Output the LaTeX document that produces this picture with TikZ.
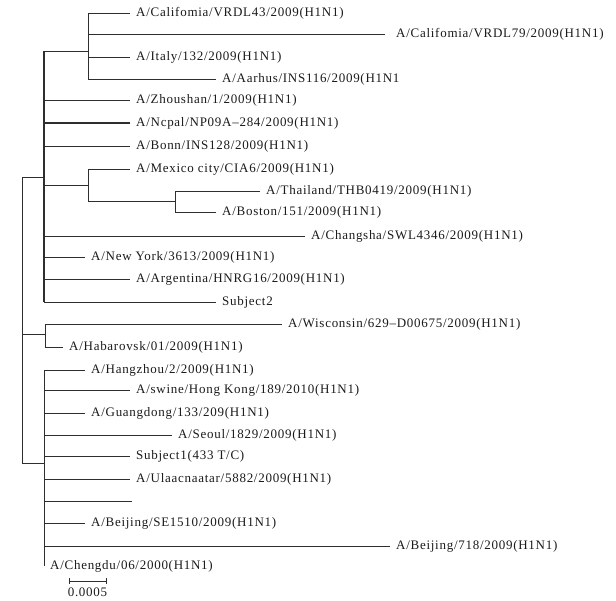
\documentclass[tikz,border=0pt]{standalone}
\usepackage{fontspec}
\setmainfont{Liberation Serif}[LetterSpace=5.6]
\definecolor{linec}{HTML}{2E2E2E}
\definecolor{textc}{HTML}{1A1A1A}
\tikzset{
  branch/.style={draw=linec, line width=0.9pt},
  thickbranch/.style={draw=linec, line width=1.6pt},
  lbl/.style={anchor=base west, inner xsep=6pt, inner ysep=0pt, yshift=-3.5pt,
              font=\fontsize{13}{15}\selectfont, text=textc},
}
\newcommand\mkleaf[6][branch]{%
  \coordinate (#2s) at (#3,#5);
  \coordinate (#2t) at (#4,#5);
  \draw[#1] (#2s) -- (#2t);
  \node[lbl] (#2) at (#2t) {#6};
}
\begin{document}
\begin{tikzpicture}[x=1pt,y=-1pt]
\useasboundingbox (0,0) rectangle (616,600);
% internal nodes
\coordinate (rootT) at (22,177);
\coordinate (rootB) at (22,463);
\coordinate (rootM) at (22,334);
\coordinate (aJoin) at (44,177);
\coordinate (aTop) at (44,51);
\coordinate (aBot) at (44,302);
\coordinate (a1Join) at (88,51);
\coordinate (a1Top) at (88,13);
\coordinate (a1Bot) at (88,79);
\coordinate (mxJoin0) at (44,185);
\coordinate (mxJoin) at (88,185);
\coordinate (mxTop) at (88,169);
\coordinate (mxBot) at (88,201);
\coordinate (thJoin) at (175,201);
\coordinate (thTop) at (175,191);
\coordinate (thBot) at (175,212);
\coordinate (bJoin) at (45,334);
\coordinate (bTop) at (45,324);
\coordinate (bBot) at (45,347);
\coordinate (cJoin) at (44,463);
\coordinate (cTop) at (44,370);
\coordinate (cBot) at (44,566);
% skeleton
\draw[branch] (rootT) -- (rootB);
\draw[branch] (rootT) -- (aJoin);
\draw[branch] (rootM) -- (bJoin);
\draw[branch] (rootB) -- (cJoin);
\draw[thickbranch] (aTop) -- (aBot);
\draw[branch] (aTop) -- (a1Join);
\draw[branch] (a1Top) -- (a1Bot);
\draw[branch] (mxJoin0) -- (mxJoin);
\draw[branch] (mxTop) -- (mxBot);
\draw[branch] (mxBot) -- (thJoin);
\draw[branch] (thTop) -- (thBot);
\draw[branch] (bTop) -- (bBot);
\draw[branch] (cTop) -- (cBot);
% clade A
\mkleaf{cal43}{88}{130}{13}{A/Califomia/VRDL43/2009(H1N1)}
\coordinate (cal79s) at (88,34);
\coordinate (cal79t) at (385,34);
\draw[branch] (cal79s) -- (cal79t);
\node[lbl, xshift=5pt] (cal79) at (cal79t) {A/Califomia/VRDL79/2009(H1N1)};
\mkleaf{italy}{88}{130}{57}{A/Italy/132/2009(H1N1)}
\mkleaf{aarhus}{88}{216}{79}{A/Aarhus/INS116/2009(H1N1}
\mkleaf{zhou}{44}{130}{100}{A/Zhoushan/1/2009(H1N1)}
\mkleaf[thickbranch]{nepal}{44}{130}{123}{A/Ncpal/NP09A–284/2009(H1N1)}
\mkleaf{bonn}{44}{130}{146}{A/Bonn/INS128/2009(H1N1)}
\mkleaf{mex}{88}{130}{169}{A/Mexico city/CIA6/2009(H1N1)}
\mkleaf{thai}{175}{260}{191}{A/Thailand/THB0419/2009(H1N1)}
\mkleaf{boston}{175}{216}{212}{A/Boston/151/2009(H1N1)}
\mkleaf{changsha}{44}{305}{236}{A/Changsha/SWL4346/2009(H1N1)}
\mkleaf{ny}{44}{85}{257}{A/New York/3613/2009(H1N1)}
\mkleaf{arg}{44}{130}{279}{A/Argentina/HNRG16/2009(H1N1)}
\mkleaf{subjB}{44}{216}{302}{Subject2}
% clade B
\mkleaf{wisc}{45}{282}{324}{A/Wisconsin/629–D00675/2009(H1N1)}
\mkleaf{haba}{45}{63}{347}{A/Habarovsk/01/2009(H1N1)}
% clade C
\mkleaf{hang}{44}{85}{370}{A/Hangzhou/2/2009(H1N1)}
\mkleaf{hk}{44}{130}{390}{A/swine/Hong Kong/189/2010(H1N1)}
\mkleaf{gd}{44}{85}{413}{A/Guangdong/133/209(H1N1)}
\mkleaf{seoul}{44}{172}{435}{A/Seoul/1829/2009(H1N1)}
\mkleaf{subjA}{44}{130}{456}{Subject1(433 T/C)}
\mkleaf{ulaan}{44}{130}{479}{A/Ulaacnaatar/5882/2009(H1N1)}
\coordinate (blankS) at (44,501);
\coordinate (blankT) at (132,501);
\draw[branch] (blankS) -- (blankT);
\mkleaf{bjse}{44}{85}{523}{A/Beijing/SE1510/2009(H1N1)}
\mkleaf{bj718}{44}{390}{546}{A/Beijing/718/2009(H1N1)}
\node[lbl] (chengdu) at (cBot) {A/Chengdu/06/2000(H1N1)};
% scale bar
\coordinate (sbL) at (69,581);
\coordinate (sbR) at (106,581);
\draw[branch, line width=0.8pt] (sbL) -- (sbR);
\draw[branch, line width=0.8pt] ([yshift=3pt]sbL) -- ([yshift=-3pt]sbL);
\draw[branch, line width=0.8pt] ([yshift=3pt]sbR) -- ([yshift=-3pt]sbR);
\node[anchor=base, inner sep=0pt, font=\fontsize{13}{15}\selectfont, text=textc] (sbtext) at (87.5,596) {0.0005};
\end{tikzpicture}
\end{document}
